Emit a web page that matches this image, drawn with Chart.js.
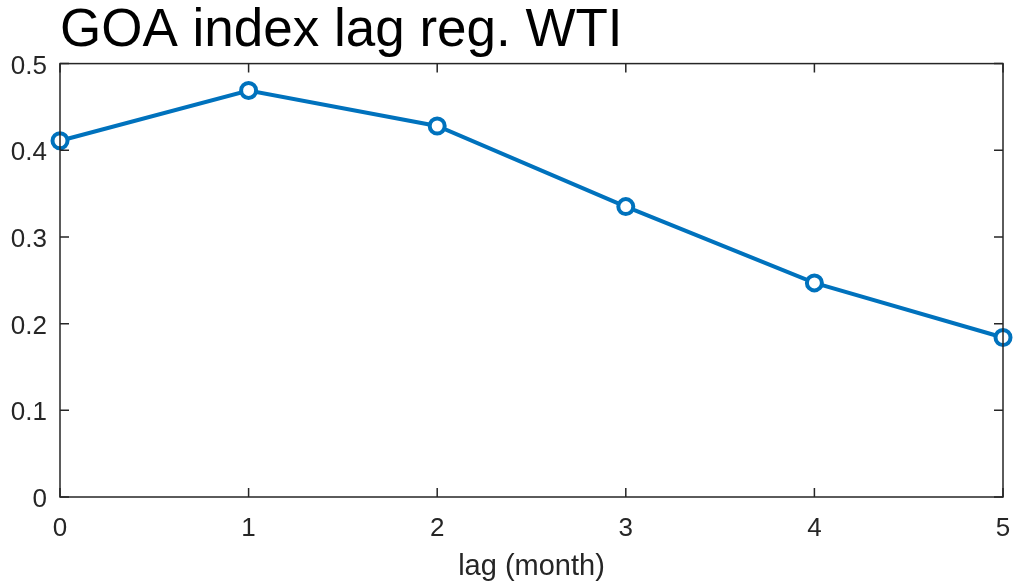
<!DOCTYPE html>
<html>
<head>
<meta charset="utf-8">
<script src="https://cdn.jsdelivr.net/npm/chart.js@4.4.1/dist/chart.umd.min.js"></script>
<style>
  html, body { margin: 0; padding: 0; background: #fff; }
  #wrap { width: 1015px; height: 586px; }
</style>
</head>
<body>
<div id="wrap"><canvas id="myChart" width="1015" height="586"></canvas></div>
<script>
const lags = [0, 1, 2, 3, 4, 5];
const coefs = [0.411, 0.469, 0.428, 0.335, 0.247, 0.184];
const yTicks = [0, 0.1, 0.2, 0.3, 0.4, 0.5];

const axisColor = '#262626';
const lineColor = '#0072BD';
const fontFamily = 'Liberation Sans, Arial, sans-serif';

// MATLAB style box with inward ticks
const boxPlugin = {
    id: 'box',
    afterDatasetsDraw(chart) {
        const { ctx, chartArea: a, scales } = chart;
        const tl = 9;
        ctx.save();
        ctx.strokeStyle = axisColor;
        ctx.lineWidth = 1.5;
        ctx.strokeRect(a.left, a.top, a.right - a.left, a.bottom - a.top);
        ctx.beginPath();
        lags.forEach(v => {
            const x = scales.x.getPixelForValue(v);
            ctx.moveTo(x, a.bottom); ctx.lineTo(x, a.bottom - tl);
            ctx.moveTo(x, a.top); ctx.lineTo(x, a.top + tl);
        });
        yTicks.forEach(v => {
            const y = scales.y.getPixelForValue(v);
            ctx.moveTo(a.left, y); ctx.lineTo(a.left + tl, y);
            ctx.moveTo(a.right, y); ctx.lineTo(a.right - tl, y);
        });
        ctx.stroke();
        ctx.restore();
    }
};

const ctx = document.getElementById('myChart').getContext('2d');
new Chart(ctx, {
    type: 'line',
    data: {
        datasets: [{
            data: lags.map((l, i) => ({ x: l, y: coefs[i] })),
            borderColor: lineColor,
            borderWidth: 4,
            backgroundColor: '#ffffff',
            pointBackgroundColor: '#ffffff',
            pointBorderColor: lineColor,
            pointBorderWidth: 4,
            pointRadius: 7.5,
            tension: 0,
            clip: false
        }]
    },
    options: {
        responsive: false,
        animation: false,
        layout: { padding: { top: 0, right: 0, bottom: 0, left: 0 } },
        plugins: {
            legend: { display: false },
            tooltip: { enabled: false },
            title: {
                display: true,
                text: 'GOA index lag reg. WTI',
                align: 'start',
                fullSize: false,
                color: '#000000',
                font: { family: fontFamily, size: 53, weight: 'normal' },
                padding: { top: 0, bottom: 0 }
            }
        },
        scales: {
            x: {
                type: 'linear',
                min: 0,
                max: 5,
                grid: { display: false },
                border: { display: false },
                ticks: {
                    stepSize: 1,
                    color: axisColor,
                    padding: 8,
                    font: { family: fontFamily, size: 26 }
                },
                title: {
                    display: true,
                    text: 'lag (month)',
                    color: axisColor,
                    padding: { top: 4, bottom: 2 },
                    font: { family: fontFamily, size: 29 }
                },
                afterFit(scale) {
                    scale.height = 89;
                    scale.paddingRight = 12;
                }
            },
            y: {
                min: 0,
                max: 0.5,
                grid: { display: false },
                border: { display: false },
                ticks: {
                    stepSize: 0.1,
                    color: axisColor,
                    padding: 5,
                    labelOffset: 3,
                    font: { family: fontFamily, size: 26 },
                    callback: v => String(Math.round(v * 10) / 10)
                },
                afterFit(scale) { scale.width = 60; }
            }
        }
    },
    plugins: [boxPlugin]
});
</script>
</body>
</html>
